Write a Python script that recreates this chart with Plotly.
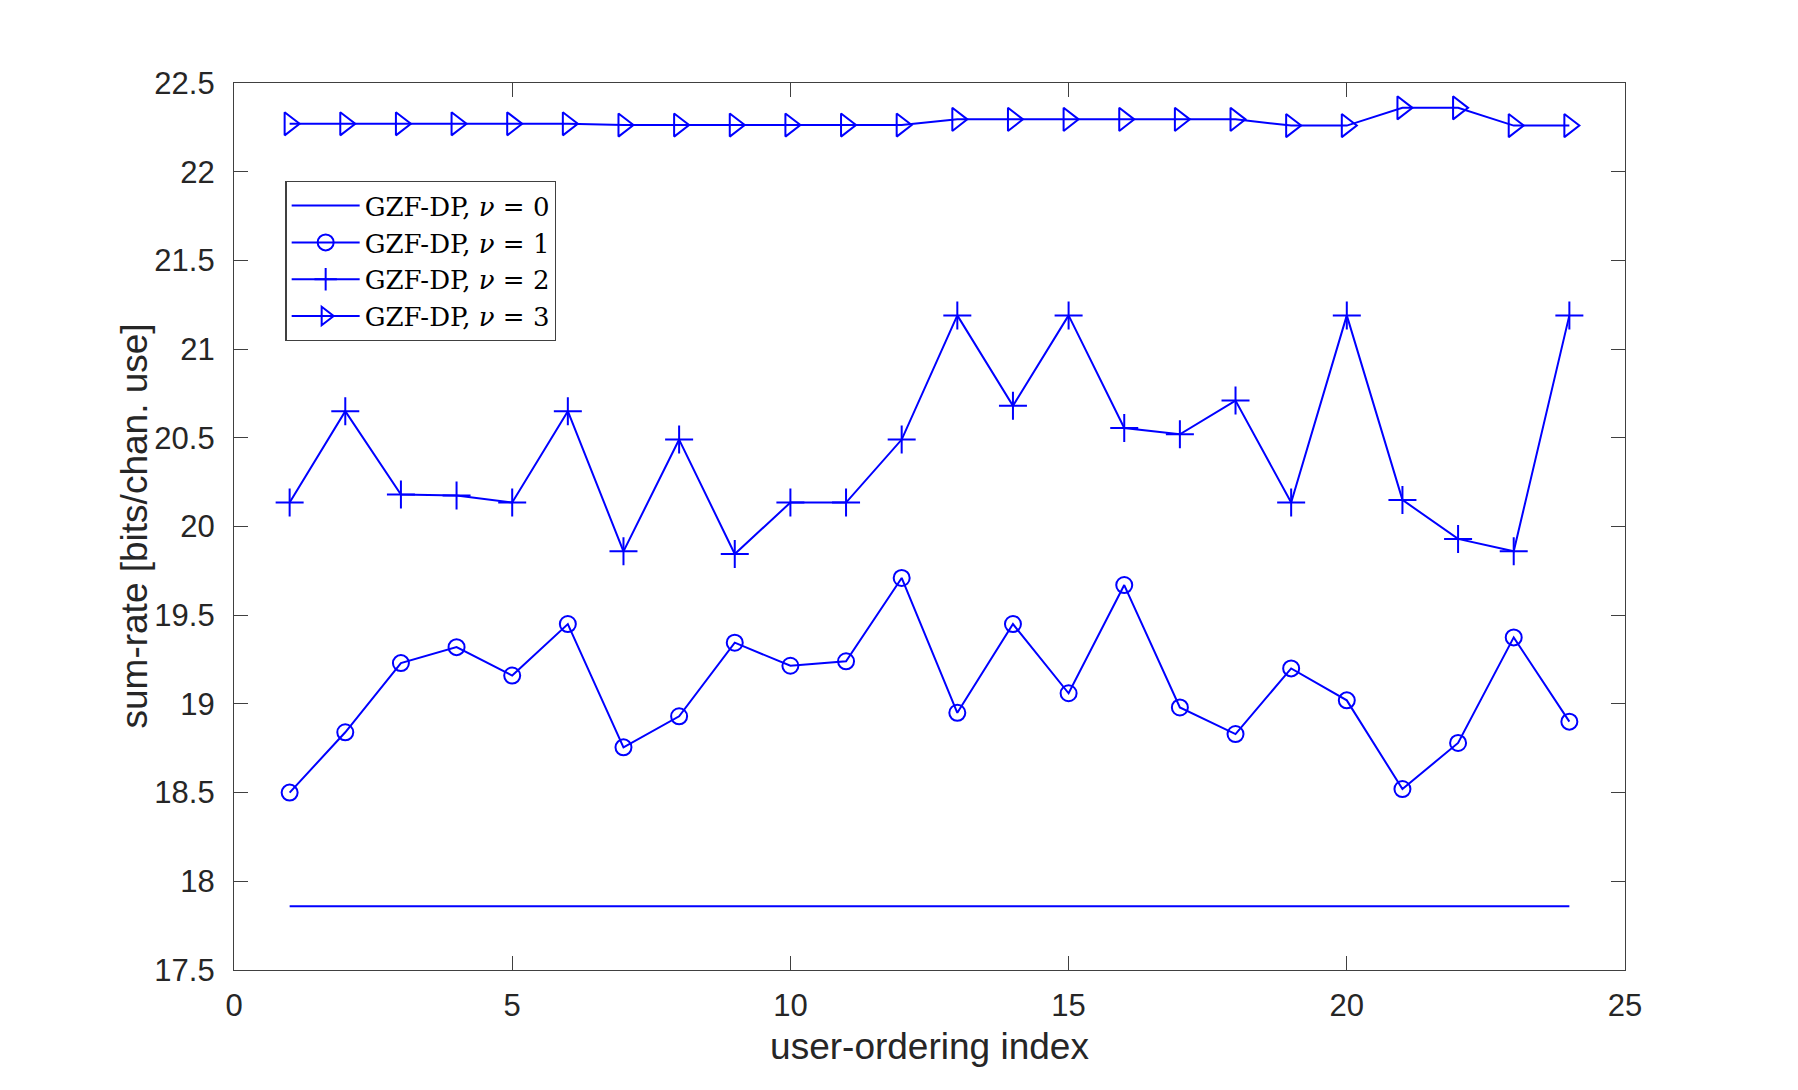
import plotly.graph_objects as go

idx = list(range(1, 25))
nu0 = [17.86] * 24
nu1 = [18.50, 18.84, 19.23, 19.32, 19.16, 19.45, 18.755, 18.93, 19.345, 19.215, 19.24, 19.71,
       18.95, 19.45, 19.06, 19.67, 18.98, 18.83, 19.20, 19.02, 18.52, 18.78, 19.375, 18.90]
nu2 = [20.135, 20.65, 20.18, 20.175, 20.135, 20.65, 19.86, 20.49, 19.845, 20.135, 20.135, 20.49,
       21.19, 20.68, 21.19, 20.555, 20.52, 20.71, 20.135, 21.19, 20.15, 19.93, 19.86, 21.19]
nu3 = [22.27, 22.27, 22.27, 22.27, 22.27, 22.27, 22.263, 22.263, 22.263, 22.263, 22.263, 22.263,
       22.295, 22.295, 22.295, 22.295, 22.295, 22.295, 22.26, 22.26, 22.36, 22.36, 22.26, 22.26]
names = ["GZF-DP, <i>ν</i> = 0", "GZF-DP, <i>ν</i> = 1", "GZF-DP, <i>ν</i> = 2", "GZF-DP, <i>ν</i> = 3"]
xticks = [0, 5, 10, 15, 20, 25]
yticks = [17.5, 18, 18.5, 19, 19.5, 20, 20.5, 21, 21.5, 22, 22.5]
yticktext = ["17.5", "18", "18.5", "19", "19.5", "20", "20.5", "21", "21.5", "22", "22.5"]
xtitle = "user-ordering index"
ytitle = "sum-rate [bits/chan. use]"

blue = "#0000FF"
sans = "Liberation Sans, Arial, sans-serif"
fig = go.Figure()
fig.add_trace(go.Scatter(x=idx, y=nu0, mode="lines", name=names[0],
                         line=dict(color=blue, width=2)))
fig.add_trace(go.Scatter(x=idx, y=nu1, mode="lines+markers", name=names[1],
                         line=dict(color=blue, width=2),
                         marker=dict(symbol="circle-open", size=16, color=blue, line=dict(width=2, color=blue))))
fig.add_trace(go.Scatter(x=idx, y=nu2, mode="lines+markers", name=names[2],
                         line=dict(color=blue, width=2),
                         marker=dict(symbol="cross-thin-open", size=20, color=blue, line=dict(width=2, color=blue))))
fig.add_trace(go.Scatter(x=idx, y=nu3, mode="lines+markers", name=names[3],
                         line=dict(color=blue, width=2),
                         marker=dict(symbol="triangle-right-open", size=20, color=blue, line=dict(width=2, color=blue))))

axis_common = dict(showgrid=False, zeroline=False, showline=True, linecolor="#404040", linewidth=1.2,
                   mirror="allticks", ticks="inside", ticklen=14, tickwidth=1, tickcolor="#404040",
                   tickfont=dict(family=sans, size=31, color="#262626"))

fig.update_layout(
    width=1798, height=1090,
    margin=dict(l=234, r=173, t=83, b=120, autoexpand=False),
    paper_bgcolor="white", plot_bgcolor="white",
    showlegend=True,
    legend=dict(x=0.037, y=0.8895, xanchor="left", yanchor="top",
                bgcolor="white", bordercolor="#404040", borderwidth=1.2,
                font=dict(family="DejaVu Serif, Liberation Serif, serif", size=26, color="black"),
                itemwidth=68, tracegroupgap=0),
    xaxis=dict(range=[0, 25], tickvals=xticks, ticktext=[str(v) for v in xticks],
               title=dict(text=xtitle, standoff=10,
                          font=dict(family=sans, size=37, color="#262626")),
               ticklabelstandoff=8, **axis_common),
    yaxis=dict(range=[17.5, 22.5], tickvals=yticks, ticktext=yticktext,
               ticklabelstandoff=12, **axis_common),
    annotations=[dict(text=ytitle, xref="paper", yref="paper", x=0, y=0.5,
                      xanchor="center", yanchor="middle", xshift=-100, textangle=-90,
                      showarrow=False, font=dict(family=sans, size=37, color="#262626"))],
)

fig.write_html("out.html")
